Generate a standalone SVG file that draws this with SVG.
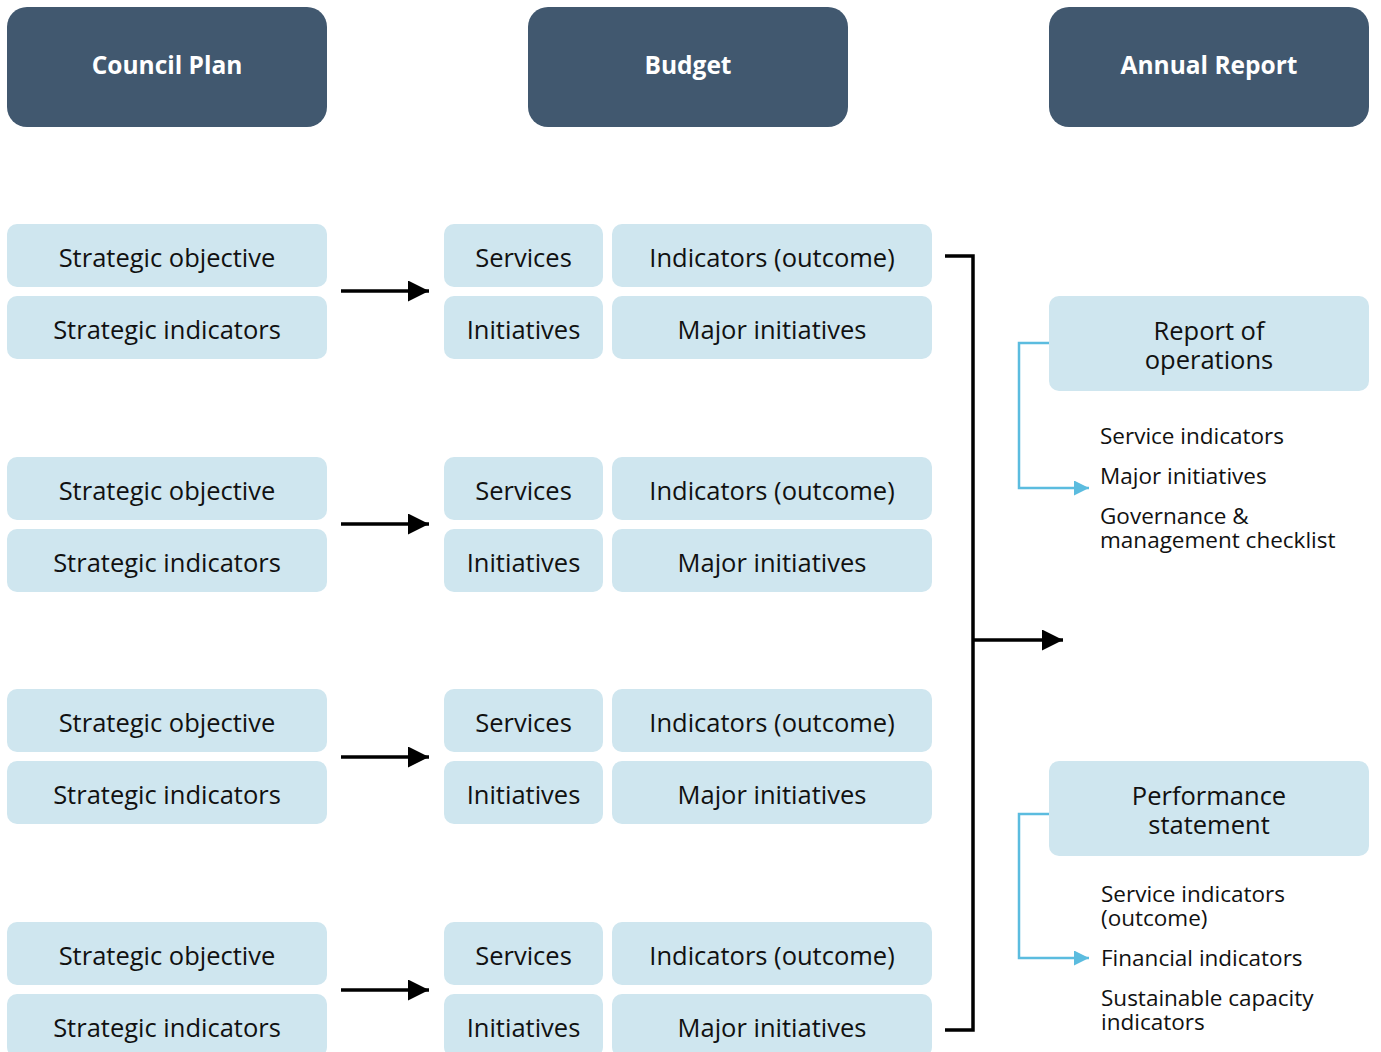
<svg xmlns="http://www.w3.org/2000/svg" width="1381" height="1052" viewBox="0 0 1381 1052">
  <defs>
    <style>
      .hdr { fill: #41586f; }
      .box { fill: #cfe6ef; }
      .hdr-t { font-family: "Open Sans", "Liberation Sans", sans-serif; font-weight: 700; font-size: 24.5px; fill: #ffffff; text-anchor: middle; }
      .box-t { font-family: "Open Sans", "Liberation Sans", sans-serif; font-size: 25.5px; fill: #111111; text-anchor: middle; }
      .item-t { font-family: "Open Sans", "Liberation Sans", sans-serif; font-size: 22.5px; fill: #111111; }
      .flow { fill: none; stroke: #000000; stroke-width: 3.5; }
      .link { fill: none; stroke: #5bbcdf; stroke-width: 2.5; }
    </style>
    <marker id="arrow-black" viewBox="0 0 10 10" refX="10" refY="5" markerWidth="7" markerHeight="6" markerUnits="strokeWidth" orient="auto">
      <path d="M0,0 L10,5 L0,10 Z" fill="#000000"/>
    </marker>
    <marker id="arrow-blue" viewBox="0 0 10 10" refX="10" refY="5" markerWidth="7.2" markerHeight="6" markerUnits="strokeWidth" orient="auto">
      <path d="M0,0 L10,5 L0,10 Z" fill="#5bbcdf"/>
    </marker>
  </defs>

  <!-- column headers -->
  <g id="hdr-council-plan">
    <rect class="hdr" x="7" y="7" width="320" height="120" rx="20"/>
    <text class="hdr-t" x="167" y="74">Council Plan</text>
  </g>
  <g id="hdr-budget">
    <rect class="hdr" x="528" y="7" width="320" height="120" rx="20"/>
    <text class="hdr-t" x="688" y="74">Budget</text>
  </g>
  <g id="hdr-annual-report">
    <rect class="hdr" x="1049" y="7" width="320" height="120" rx="20"/>
    <text class="hdr-t" x="1209" y="74">Annual Report</text>
  </g>

  <!-- row 1 -->
  <g id="row1-strategic-objective"><rect class="box" x="7" y="224" width="320" height="63" rx="10"/><text class="box-t" x="167" y="267">Strategic objective</text></g>
  <g id="row1-strategic-indicators"><rect class="box" x="7" y="296" width="320" height="63" rx="10"/><text class="box-t" x="167" y="339">Strategic indicators</text></g>
  <g id="row1-services"><rect class="box" x="444" y="224" width="159" height="63" rx="10"/><text class="box-t" x="523.5" y="267">Services</text></g>
  <g id="row1-indicators"><rect class="box" x="612" y="224" width="320" height="63" rx="10"/><text class="box-t" x="772" y="267">Indicators (outcome)</text></g>
  <g id="row1-initiatives"><rect class="box" x="444" y="296" width="159" height="63" rx="10"/><text class="box-t" x="523.5" y="339">Initiatives</text></g>
  <g id="row1-major-initiatives"><rect class="box" x="612" y="296" width="320" height="63" rx="10"/><text class="box-t" x="772" y="339">Major initiatives</text></g>

  <!-- row 2 -->
  <g id="row2-strategic-objective"><rect class="box" x="7" y="457" width="320" height="63" rx="10"/><text class="box-t" x="167" y="500">Strategic objective</text></g>
  <g id="row2-strategic-indicators"><rect class="box" x="7" y="529" width="320" height="63" rx="10"/><text class="box-t" x="167" y="572">Strategic indicators</text></g>
  <g id="row2-services"><rect class="box" x="444" y="457" width="159" height="63" rx="10"/><text class="box-t" x="523.5" y="500">Services</text></g>
  <g id="row2-indicators"><rect class="box" x="612" y="457" width="320" height="63" rx="10"/><text class="box-t" x="772" y="500">Indicators (outcome)</text></g>
  <g id="row2-initiatives"><rect class="box" x="444" y="529" width="159" height="63" rx="10"/><text class="box-t" x="523.5" y="572">Initiatives</text></g>
  <g id="row2-major-initiatives"><rect class="box" x="612" y="529" width="320" height="63" rx="10"/><text class="box-t" x="772" y="572">Major initiatives</text></g>

  <!-- row 3 -->
  <g id="row3-strategic-objective"><rect class="box" x="7" y="689" width="320" height="63" rx="10"/><text class="box-t" x="167" y="732">Strategic objective</text></g>
  <g id="row3-strategic-indicators"><rect class="box" x="7" y="761" width="320" height="63" rx="10"/><text class="box-t" x="167" y="804">Strategic indicators</text></g>
  <g id="row3-services"><rect class="box" x="444" y="689" width="159" height="63" rx="10"/><text class="box-t" x="523.5" y="732">Services</text></g>
  <g id="row3-indicators"><rect class="box" x="612" y="689" width="320" height="63" rx="10"/><text class="box-t" x="772" y="732">Indicators (outcome)</text></g>
  <g id="row3-initiatives"><rect class="box" x="444" y="761" width="159" height="63" rx="10"/><text class="box-t" x="523.5" y="804">Initiatives</text></g>
  <g id="row3-major-initiatives"><rect class="box" x="612" y="761" width="320" height="63" rx="10"/><text class="box-t" x="772" y="804">Major initiatives</text></g>

  <!-- row 4 -->
  <g id="row4-strategic-objective"><rect class="box" x="7" y="922" width="320" height="63" rx="10"/><text class="box-t" x="167" y="965">Strategic objective</text></g>
  <g id="row4-strategic-indicators"><rect class="box" x="7" y="994" width="320" height="63" rx="10"/><text class="box-t" x="167" y="1037">Strategic indicators</text></g>
  <g id="row4-services"><rect class="box" x="444" y="922" width="159" height="63" rx="10"/><text class="box-t" x="523.5" y="965">Services</text></g>
  <g id="row4-indicators"><rect class="box" x="612" y="922" width="320" height="63" rx="10"/><text class="box-t" x="772" y="965">Indicators (outcome)</text></g>
  <g id="row4-initiatives"><rect class="box" x="444" y="994" width="159" height="63" rx="10"/><text class="box-t" x="523.5" y="1037">Initiatives</text></g>
  <g id="row4-major-initiatives"><rect class="box" x="612" y="994" width="320" height="63" rx="10"/><text class="box-t" x="772" y="1037">Major initiatives</text></g>

  <!-- annual report sections -->
  <g id="report-of-operations">
    <rect class="box" x="1049" y="296" width="320" height="95" rx="10"/>
    <text class="box-t" x="1209" y="340"><tspan x="1209">Report of</tspan><tspan x="1209" dy="29">operations</tspan></text>
    <text class="item-t" x="1100" y="444">Service indicators</text>
    <text class="item-t" x="1100" y="484">Major initiatives</text>
    <text class="item-t" x="1100" y="524"><tspan x="1100">Governance &amp;</tspan><tspan x="1100" dy="24">management checklist</tspan></text>
  </g>
  <g id="performance-statement">
    <rect class="box" x="1049" y="761" width="320" height="95" rx="10"/>
    <text class="box-t" x="1209" y="805"><tspan x="1209">Performance</tspan><tspan x="1209" dy="29">statement</tspan></text>
    <text class="item-t" x="1101" y="902"><tspan x="1101">Service indicators</tspan><tspan x="1101" dy="24">(outcome)</tspan></text>
    <text class="item-t" x="1101" y="966">Financial indicators</text>
    <text class="item-t" x="1101" y="1006"><tspan x="1101">Sustainable capacity</tspan><tspan x="1101" dy="24">indicators</tspan></text>
  </g>

  <!-- connectors -->
  <g id="connectors">
    <line class="flow" x1="341" y1="291" x2="429" y2="291" marker-end="url(#arrow-black)"/>
    <line class="flow" x1="341" y1="524" x2="429" y2="524" marker-end="url(#arrow-black)"/>
    <line class="flow" x1="341" y1="757" x2="429" y2="757" marker-end="url(#arrow-black)"/>
    <line class="flow" x1="341" y1="990" x2="429" y2="990" marker-end="url(#arrow-black)"/>
    <path class="flow" d="M945,256 H973 V1030 H945" stroke-width="3"/>
    <line class="flow" x1="973" y1="640" x2="1063" y2="640" marker-end="url(#arrow-black)"/>
    <path class="link" d="M1049,343 H1019 V488 H1089" marker-end="url(#arrow-blue)"/>
    <path class="link" d="M1049,814 H1019 V958 H1089" marker-end="url(#arrow-blue)"/>
  </g>
</svg>
